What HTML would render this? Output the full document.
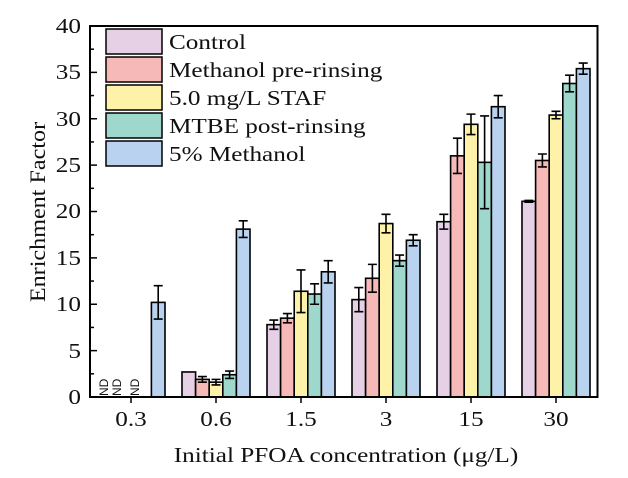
<!DOCTYPE html>
<html><head><meta charset="utf-8"><style>
html,body{margin:0;padding:0;background:#fff;}
svg{display:block;font-family:"Liberation Serif",serif;}
</style></head><body>
<svg id="s" width="628" height="478" viewBox="0 0 628 478" xmlns="http://www.w3.org/2000/svg">
<rect width="628" height="478" fill="#fff"/>
<g id="bars"></g>
<rect x="90" y="26" width="507.5" height="371" fill="none" stroke="#000" stroke-width="2"/>
<g font-size="21" text-anchor="end" fill="#111" transform="translate(81,0) scale(1.2,1)">
<text x="0" y="404">0</text>
<text x="0" y="358">5</text>
<text x="0" y="311">10</text>
<text x="0" y="265">15</text>
<text x="0" y="218">20</text>
<text x="0" y="172">25</text>
<text x="0" y="126">30</text>
<text x="0" y="79">35</text>
<text x="0" y="33">40</text>
</g>
<g font-size="21" text-anchor="middle" fill="#111">
<text transform="translate(131,426) scale(1.2,1)">0.3</text>
<text transform="translate(216,426) scale(1.2,1)">0.6</text>
<text transform="translate(301,426) scale(1.2,1)">1.5</text>
<text transform="translate(386,426) scale(1.2,1)">3</text>
<text transform="translate(471,426) scale(1.2,1)">15</text>
<text transform="translate(556,426) scale(1.2,1)">30</text>
<text transform="translate(346,462) scale(1.2,1)">Initial PFOA concentration (μg/L)</text>
<text transform="translate(45,212) rotate(-90) scale(1.15,1.05)">Enrichment Factor</text>
</g>
<g font-size="12" font-family="Liberation Sans,sans-serif" fill="#111">
<text transform="translate(108,396) rotate(-90)">ND</text>
<text transform="translate(121,396) rotate(-90)">ND</text>
<text transform="translate(139,396) rotate(-90)">ND</text>
</g>
<g stroke="#000" stroke-width="1.5">
<rect x="106" y="29" width="56" height="25" fill="#e6d0e6"/>
<rect x="106" y="57" width="56" height="25" fill="#f7b8b8"/>
<rect x="106" y="85" width="56" height="25" fill="#fdf2a8"/>
<rect x="106" y="113" width="56" height="25" fill="#9ed8cc"/>
<rect x="106" y="141" width="56" height="25" fill="#b9d2ef"/>
</g>
<g font-size="21" fill="#111" transform="translate(169,0) scale(1.2,1)">
<text x="0" y="49">Control</text>
<text x="0" y="77">Methanol pre-rinsing</text>
<text x="0" y="105">5.0 mg/L STAF</text>
<text x="0" y="133">MTBE post-rinsing</text>
<text x="0" y="161">5% Methanol</text>
</g>
</svg>
<script>
var NS="http://www.w3.org/2000/svg",g=document.getElementById("bars");
var cols=["#e6d0e6","#f7b8b8","#fdf2a8","#9ed8cc","#b9d2ef"];
var d=[[null,null,null,null,[10.2,1.8]],
[[2.7,0],[1.9,0.3],[1.6,0.3],[2.4,0.4],[18.1,0.9]],
[[7.8,0.5],[8.5,0.5],[11.4,2.3],[11.1,1.1],[13.5,1.2]],
[[10.5,1.3],[12.8,1.5],[18.7,1.0],[14.7,0.6],[16.9,0.6]],
[[18.9,0.8],[26.0,1.9],[29.4,1.1],[25.3,5.0],[31.3,1.2]],
[[21.1,0.1],[25.5,0.7],[30.4,0.4],[33.8,0.9],[35.4,0.6]]];
function Y(v){return 397-v*9.275;}
function el(n,a){var e=document.createElementNS(NS,n);for(var k in a)e.setAttribute(k,a[k]);g.appendChild(e);return e;}
var bw=13.6;
d.forEach(function(grp,i){var c=131+85*i;grp.forEach(function(b,j){if(!b)return;
var x=c-34+j*bw;el("rect",{x:x,y:Y(b[0]),width:bw,height:397-Y(b[0]),fill:cols[j],stroke:"#000","stroke-width":1.6});
if(b[1]>0){var cx=x+bw/2;el("path",{d:"M"+cx+" "+Y(b[0]+b[1])+"V"+Y(b[0]-b[1])+"M"+(cx-4.5)+" "+Y(b[0]+b[1])+"h9M"+(cx-4.5)+" "+Y(b[0]-b[1])+"h9",stroke:"#000","stroke-width":1.6,fill:"none"});}
});});
for(var v=0;v<=40;v+=2.5){var y=Y(v),L=(v%5==0)?7:4;el("line",{x1:90,x2:90+L,y1:y,y2:y,stroke:"#000","stroke-width":1.5});}
[131,216,301,386,471,556].forEach(function(x){el("line",{x1:x,x2:x,y1:397,y2:403,stroke:"#000","stroke-width":1.5});});
</script>
</body></html>
